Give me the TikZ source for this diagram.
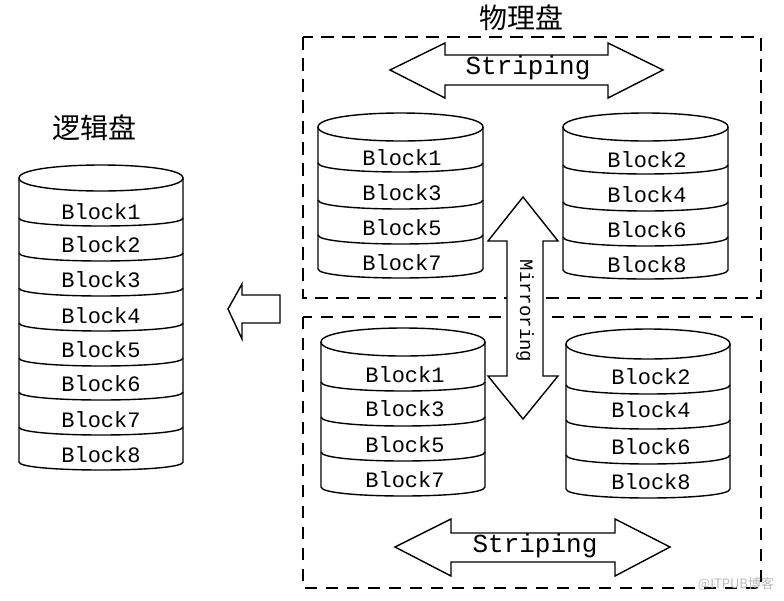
\documentclass[tikz,border=0pt]{standalone}
\usepackage{fontspec}
\setmonofont{Liberation Mono}
\newfontfamily\cjk{Noto Sans CJK SC}
\newcommand\mycyl[7]{%
  % #1 left x, #2 right x, #3 top edge y, #4 top radius, #5 separator ys, #6 bottom edge y, #7 sag
  \draw[cylline] (#1,#3) .. controls (#1,#3-1.333*#4) and (#2,#3-1.333*#4) .. (#2,#3)
     .. controls (#2,#3+1.333*#4) and (#1,#3+1.333*#4) .. (#1,#3);
  \draw[cylline] (#1,#3) -- (#1,#6) .. controls (#1,#6+1.333*#7) and (#2,#6+1.333*#7) .. (#2,#6) -- (#2,#3);
  \foreach \yy in {#5} {
    \draw[cylline] (#1,\yy) .. controls (#1,\yy+1.333*#7) and (#2,\yy+1.333*#7) .. (#2,\yy);
  }%
}
\begin{document}
\begin{tikzpicture}[x=1pt,y=-1pt,
  cylline/.style={line width=1.4pt},
  blk/.style={font=\fontsize{22}{22}\selectfont\ttfamily, inner sep=0pt},
  title/.style={font=\fontsize{28}{28}\selectfont\cjk, inner sep=0pt},
  bigarrow/.style={draw, fill=white, line width=1.4pt, line join=miter},
  dbox/.style={draw, line width=1.5pt, dash pattern=on 13pt off 8pt},
  dbox2/.style={draw, line width=1.2pt, dash pattern=on 12pt off 9pt}]
\useasboundingbox (0,0) rectangle (784,600);

% titles
\node[title] (tlog) at (94,128) {逻辑盘};
\node[title] (tphy) at (521,18) {物理盘};

% dashed boxes
\draw[dbox] (303,37) rectangle (761,298);
\draw[dbox2] (303,317) rectangle (761,588);

% logical disk
\mycyl{19}{183}{178}{13}{218,253,288,323,358,392,427}{462}{8}
\node[blk] (l1) at (101,212) {Block1};
\node[blk] (l2) at (101,245) {Block2};
\node[blk] (l3) at (101,280) {Block3};
\node[blk] (l4) at (101,316) {Block4};
\node[blk] (l5) at (101,350) {Block5};
\node[blk] (l6) at (101,384) {Block6};
\node[blk] (l7) at (101,420) {Block7};
\node[blk] (l8) at (101,455) {Block8};

% top-left disk
\mycyl{318}{483}{127}{14}{163,200,235}{269}{9}
\node[blk] (a1) at (402,158) {Block1};
\node[blk] (a3) at (402,193) {Block3};
\node[blk] (a5) at (402,228) {Block5};
\node[blk] (a7) at (402,263) {Block7};

% top-right disk
\mycyl{563}{728}{127}{14}{165,202,237}{270}{9}
\node[blk] (b2) at (647,160) {Block2};
\node[blk] (b4) at (647,195) {Block4};
\node[blk] (b6) at (647,230) {Block6};
\node[blk] (b8) at (647,265) {Block8};

% bottom-left disk
\mycyl{321}{485}{342}{14}{382,417,452}{487}{9}
\node[blk] (c1) at (405,375) {Block1};
\node[blk] (c3) at (405,409) {Block3};
\node[blk] (c5) at (405,445) {Block5};
\node[blk] (c7) at (405,480) {Block7};

% bottom-right disk
\mycyl{566}{730}{344}{15}{385,420,455}{489}{9}
\node[blk] (d2) at (651,377) {Block2};
\node[blk] (d4) at (651,410) {Block4};
\node[blk] (d6) at (651,447) {Block6};
\node[blk] (d8) at (651,482) {Block8};

% left hollow arrow
\draw[bigarrow] (228,309) -- (242,284) -- (242,295) -- (280,295) -- (280,323)
  -- (242,323) -- (242,339) -- cycle;

% top striping arrow
\draw[bigarrow] (390,70) -- (445,43) -- (445,55) -- (608,55) -- (608,43) -- (663,70)
  -- (608,98) -- (608,85) -- (445,85) -- (445,98) -- cycle;
\node[font=\fontsize{26}{26}\selectfont\ttfamily, inner sep=0pt] (s1) at (528,68) {Striping};

% bottom striping arrow
\draw[bigarrow] (395,547) -- (451,519) -- (451,533) -- (615,533) -- (615,519) -- (670,547)
  -- (615,576) -- (615,562) -- (451,562) -- (451,576) -- cycle;
\node[font=\fontsize{26}{26}\selectfont\ttfamily, inner sep=0pt] (s2) at (535,546) {Striping};

% mirroring arrow
\draw[bigarrow] (523,197) -- (558,241) -- (543,241) -- (543,376) -- (558,376) -- (523,419)
  -- (488,376) -- (507,376) -- (507,241) -- (488,241) -- cycle;
\node[font=\fontsize{19}{19}\selectfont\ttfamily, inner sep=0pt, rotate=-90] (mir) at (525,311) {Mirroring};

% watermark
\node[font=\fontsize{13}{13}\selectfont\cjk, text=gray!55, inner sep=0pt] (wm) at (736,584) {@ITPUB博客};
\end{tikzpicture}
\end{document}
